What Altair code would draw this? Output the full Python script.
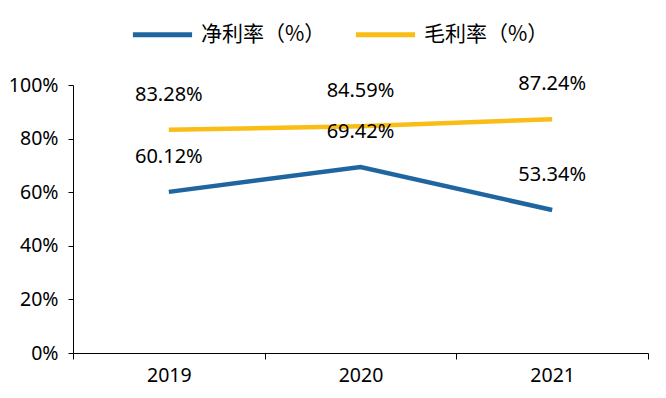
import altair as alt
import pandas as pd

years = ["2019", "2020", "2021"]
net_margin = [0.6012, 0.6942, 0.5334]
gross_margin = [0.8328, 0.8459, 0.8724]
series_names = ["净利率（%）", "毛利率（%）"]
colors = ["#1F65A0", "#F9BD16"]

rows = []
for i, y in enumerate(years):
    rows.append({"year": y, "series": series_names[0], "value": net_margin[i]})
    rows.append({"year": y, "series": series_names[1], "value": gross_margin[i]})
df = pd.DataFrame(rows)

x_enc = alt.X(
    "year:N",
    sort=years,
    bandPosition=0.5,
    scale=alt.Scale(type="band", paddingInner=0, paddingOuter=0),
    axis=alt.Axis(
        title=None, labelAngle=0, tickBand="extent", tickSize=6, tickColor="black",
        domainColor="black", labelFontSize=19.5, labelFont="Noto Sans", labelColor="black",
        labelPadding=7, tickWidth=1, domainWidth=1,
    ),
)
y_enc = alt.Y(
    "value:Q",
    scale=alt.Scale(domain=[0, 1]),
    axis=alt.Axis(
        title=None, values=[0, 0.2, 0.4, 0.6, 0.8, 1.0], format=".0%", grid=False,
        tickSize=5, tickColor="black", domainColor="black", labelFontSize=19.5,
        labelFont="Noto Sans", labelColor="black", labelPadding=10,
    ),
)
color_enc = alt.Color(
    "series:N",
    sort=series_names,
    scale=alt.Scale(domain=series_names, range=colors),
    legend=alt.Legend(
        title=None, orient="none", direction="horizontal", legendX=57, legendY=-83,
        symbolType="stroke", symbolSize=3500, symbolStrokeWidth=5,
        labelFontSize=21, labelFont="Noto Sans CJK SC", labelColor="black",
        columnPadding=19, labelOffset=6,
    ),
)

lines = alt.Chart(df).mark_line(strokeWidth=4.5).encode(x=x_enc, y=y_enc, color=color_enc)
labels = alt.Chart(df).mark_text(
    dy=-35, baseline="middle", align="center", fontSize=20, font="Noto Sans", color="black"
).encode(
    x=alt.X("year:N", sort=years, bandPosition=0.5),
    y="value:Q",
    text=alt.Text("value:Q", format=".2%"),
)

chart = (
    alt.layer(lines, labels)
    .properties(
        width=575, height=268,
        autosize=alt.AutoSizeParams(type="none"),
        padding={"left": 65, "top": 77, "right": 10, "bottom": 37},
    )
    .configure_view(stroke=None)
)
chart.save("out.html", embed_options={"renderer": "svg", "actions": False})
